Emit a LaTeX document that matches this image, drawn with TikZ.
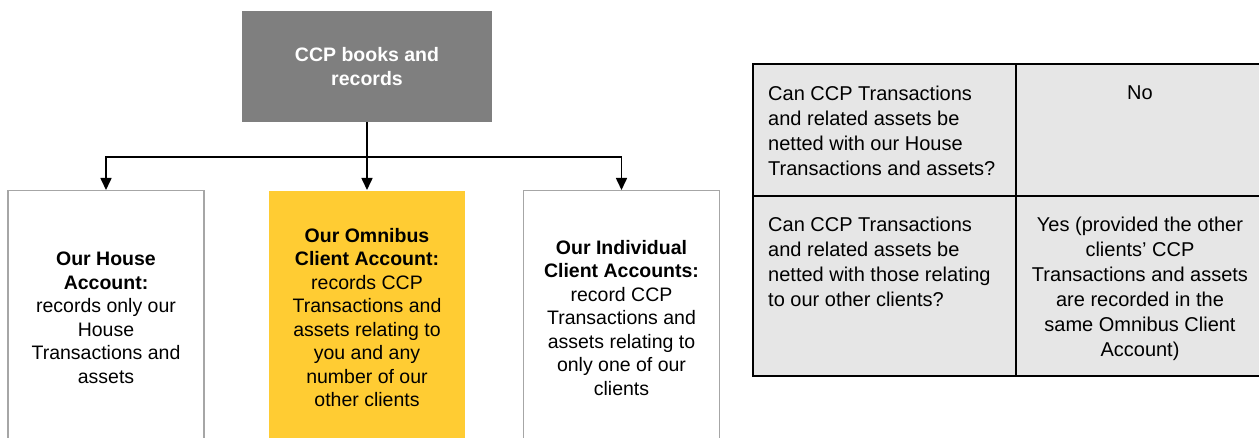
\documentclass[tikz,border=0pt]{standalone}
\usepackage{fontspec}
\setmainfont{Liberation Sans}
\usetikzlibrary{arrows.meta,positioning}
\definecolor{boxgray}{HTML}{7F7F7F}
\definecolor{omniyellow}{HTML}{FFCC33}
\definecolor{edgegray}{HTML}{A6A6A6}
\definecolor{cellgray}{HTML}{E6E6E6}

\begin{document}
\begin{tikzpicture}[x=1pt,y=-1pt, every node/.style={font=\fontsize{19.5}{23.5}\selectfont}]
			\tikzstyle{myarrowstyle} = [-{Triangle[width=11pt,length=12pt]}, line width=1.6pt]
			\tikzstyle{accountbox} = [draw=edgegray, line width=1.5pt, minimum width=196pt, minimum height=254pt, align=center, inner sep=0pt, anchor=north]
			\tikzstyle{celltext} = [align=left, anchor=north west, inner sep=0pt, font=\fontsize{20}{25}\selectfont]
			
			\useasboundingbox (0,0) rectangle (1259,438);
			\clip (0,0) rectangle (1259,438);
			
			\node [fill=boxgray, text=white, minimum width=250pt, minimum height=111pt, align=center, font=\bfseries\fontsize{19.5}{24}\selectfont] (A0) at (367,66.5) {CCP books and\\records};
			\node [accountbox, fill=white] (A1) at (106,190) {\textbf{Our House}\\\textbf{Account:}\\records only our\\House\\Transactions and\\assets};
			\node [accountbox, fill=omniyellow, draw=none] (A2) at (367,190) {\textbf{Our Omnibus}\\\textbf{Client Account:}\\records CCP\\Transactions and\\assets relating to\\you and any\\number of our\\other clients};
			\node [accountbox, fill=white] (A3) at (621.5,190) {\textbf{Our Individual}\\\textbf{Client Accounts:}\\record CCP\\Transactions and\\assets relating to\\only one of our\\clients};
			\coordinate (S) at (367,157);
			
			\draw [line width=1.6pt] (A0.south) -- (S);
			\draw [myarrowstyle] (S) -| (A1.north);
			\draw [myarrowstyle] (S) -- (A2.north);
			\draw [myarrowstyle] (S) -| (A3.north);
			
			
			\draw [fill=cellgray, line width=2pt] (753,64) rectangle (1264,376);
			\draw [line width=2pt] (753,196) -- (1264,196);
			\draw [line width=2pt] (1016,64) -- (1016,376);
			
			\node [celltext] (B1) at (768,86) {Can CCP Transactions\\and related assets be\\netted with our House\\Transactions and assets?};
			\node [celltext, align=center, anchor=north] (B2) at (1140,86) {No};
			\node [celltext] (C1) at (768,217) {Can CCP Transactions\\and related assets be\\netted with those relating\\to our other clients?};
			\node [celltext, align=center, anchor=north] (C2) at (1140,217) {Yes (provided the other\\clients’ CCP\\Transactions and assets\\are recorded in the\\same Omnibus Client\\Account)};
			
			
\end{tikzpicture}
\end{document}
